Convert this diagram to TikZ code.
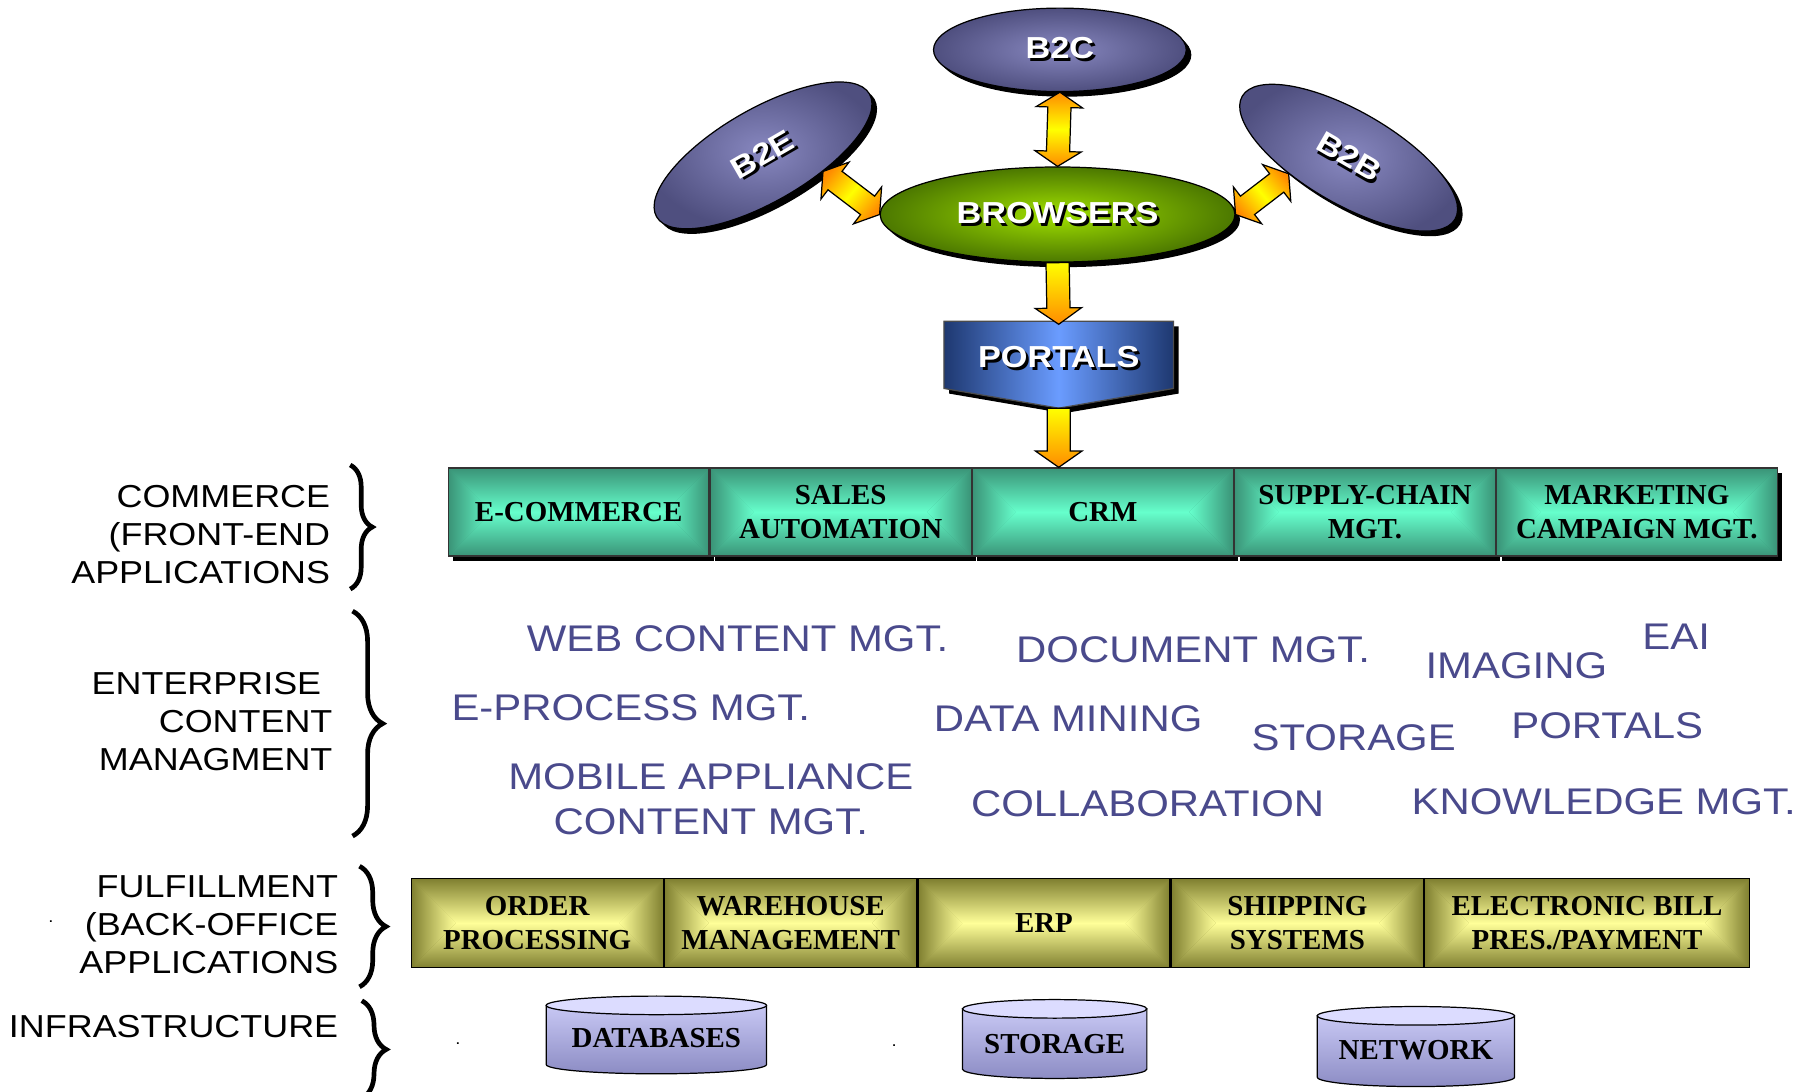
\documentclass[tikz,border=0pt]{standalone}
\usepackage{fontspec}
\usepackage{xcolor}
\usepackage{tikz}
\usetikzlibrary{calc,positioning,shapes.geometric,shadows,decorations.pathreplacing}
\newfontfamily\widesans[FakeStretch=1.13]{Liberation Sans}
\newfontfamily\serifface{Liberation Serif}
\newcommand\ovalfont{\widesans\bfseries\fontsize{14.9}{17}\selectfont}
\newcommand\cellfont{\serifface\bfseries\fontsize{14.2}{16.8}\selectfont}
\newcommand\labfont{\widesans\fontsize{15.6}{18.6}\selectfont}
\newcommand\ecmfont{\widesans\fontsize{18.2}{22.2}\selectfont}
\definecolor{ink}{HTML}{4A4A8C}
\definecolor{bizedge}{HTML}{4F4F7F}
\definecolor{bizmid}{HTML}{8888C0}
\definecolor{brwedge}{HTML}{4C7800}
\definecolor{brwmid}{HTML}{A0E000}
\definecolor{portedge}{HTML}{1E3870}
\definecolor{portmid}{HTML}{6A9CFF}
\definecolor{tealedge}{HTML}{3A9377}
\definecolor{tealmid}{HTML}{66FFCC}
\definecolor{oliveedge}{HTML}{7F7F30}
\definecolor{olivemid}{HTML}{FFFF99}
\definecolor{cyltop}{HTML}{DCDCFF}
\definecolor{cylbody}{HTML}{C8C8F4}
\definecolor{cyldark}{HTML}{8C8CC4}
\definecolor{arrorange}{HTML}{FF8C00}
\definecolor{arryellow}{HTML}{FFFF00}
% white text with a dark drop
\newcommand\shadowed[1]{\rlap{\kern1.3pt\raisebox{-1.3pt}{\color{black}#1}}#1}
% gradient from the edges of a box to its middle line
\newcommand\boxgrad[3]{%
  \coordinate (gl) at ($(path picture bounding box.west)!#3!(path picture bounding box.east)$);
  \coordinate (gr) at ($(path picture bounding box.east)!#3!(path picture bounding box.west)$);
  \shade[top color=#1,bottom color=#2] (path picture bounding box.north west) -- (path picture bounding box.north east) -- (gr) -- (gl) -- cycle;
  \shade[top color=#2,bottom color=#1] (path picture bounding box.south west) -- (path picture bounding box.south east) -- (gr) -- (gl) -- cycle;
  \shade[left color=#1,right color=#2] (path picture bounding box.north west) -- (path picture bounding box.south west) -- (gl) -- cycle;
  \shade[left color=#2,right color=#1] (path picture bounding box.north east) -- (path picture bounding box.south east) -- (gr) -- cycle;}
% block arrows
\newcommand\duoarrow[3][0]{%
  \coordinate (ha) at ($(#2)!0.26cm!(#3)$);
  \coordinate (hb) at ($(#3)!0.26cm!(#2)$);
  \shade[blockarrow, top color=arrorange, bottom color=arrorange, middle color=arryellow, shading angle=#1]
    (#2) -- ($(ha)!0.4cm!90:(#3)$) -- ($(ha)!0.2cm!90:(#3)$) -- ($(hb)!0.2cm!-90:(#2)$) -- ($(hb)!0.4cm!-90:(#2)$)
    -- (#3) -- ($(hb)!0.4cm!90:(#2)$) -- ($(hb)!0.2cm!90:(#2)$) -- ($(ha)!0.2cm!-90:(#3)$) -- ($(ha)!0.4cm!-90:(#3)$) -- cycle;}
\newcommand\onearrow[2]{%
  \coordinate (ha) at ($(#2)!0.28cm!(#1)$);
  \shade[blockarrow, top color=arryellow, bottom color=arrorange]
    ($(#1)!0.2cm!90:(#2)$) -- ($(ha)!0.2cm!-90:(#1)$) -- ($(ha)!0.4cm!-90:(#1)$) -- (#2)
    -- ($(ha)!0.4cm!90:(#1)$) -- ($(ha)!0.2cm!90:(#1)$) -- ($(#1)!0.2cm!-90:(#2)$) -- cycle;}
% storage drum: centre x, top y, bottom y, half width
\newcommand\drum[4]{%
  \shade[draw=black, line width=0.6pt, top color=cylbody, bottom color=cyldark]
    ({#1-#4},#2) -- ({#1-#4},#3) arc[start angle=180, end angle=0, x radius=#4, y radius=8] -- ({#1+#4},#2) -- cycle;
  \filldraw[fill=cyltop, line width=0.6pt] (#1,#2) ellipse[x radius=#4, y radius=8];}
\tikzset{
  deep/.style={drop shadow={shadow xshift=2.5pt, shadow yshift=-2.5pt, fill=black, opacity=1}},
  bizell/.style={ellipse, draw=black, line width=0.6pt, inner color=bizmid, outer color=bizedge, deep, text=white, font=\ovalfont, inner sep=0pt},
  blockarrow/.style={draw=black, line width=0.6pt, line join=miter},
  appcell/.style={draw=black!80, fill=tealedge, line width=0.6pt, minimum height=1.52cm, inner sep=0pt, align=center, font=\cellfont, path picture={\boxgrad{tealedge}{tealmid}{0.76cm}}, deep},
  bookcell/.style={draw=black, fill=oliveedge, line width=0.6pt, minimum height=1.54cm, inner sep=0pt, align=center, font=\cellfont, path picture={\boxgrad{oliveedge}{olivemid}{0.77cm}}},
  layer/.style={anchor=east, align=right, font=\labfont, inner sep=0pt},
  ecm/.style={anchor=west, text=ink, font=\ecmfont, inner sep=0pt},
  curly/.style={decorate, line width=2.3pt, decoration={brace, amplitude=#1}},
  drumtext/.style={font=\cellfont, inner sep=0pt},
}
\begin{document}
\begin{tikzpicture}[x=0.02cm, y=-0.02cm]
  \fill[white] (0,0) rectangle (1560,941.7);
  \useasboundingbox (0,0) rectangle (1560,941.7);

  % channels
  \node[bizell, minimum width=4.36cm, minimum height=1.44cm] (b2c) at (914,43) {\shadowed{B2C}};
  \node[bizell, rotate=30, minimum width=4.24cm, minimum height=1.6cm] (b2e) at (658,134) {\shadowed{B2E}};
  \node[bizell, rotate=-30, minimum width=4.24cm, minimum height=1.6cm] (b2b) at (1163,136) {\shadowed{B2B}};
  \node[bizell, inner color=brwmid, outer color=brwedge, minimum width=6.12cm, minimum height=1.64cm] (brw) at (912,185) {\shadowed{BROWSERS}};

  % portal block
  \coordinate (pc) at (913,306);
  \coordinate (ptip) at (913,352);
  \shade[draw=black!70, line width=0.6pt, left color=portedge, right color=portedge, middle color=portmid, deep]
    ($(pc)+(-99,-29)$) -- ($(pc)+(99,-29)$) -- ($(pc)+(99,29)$) -- (ptip) -- ($(pc)+(-99,29)$) -- cycle;
  \node[minimum width=3.96cm, minimum height=1.16cm, inner sep=0pt, text=white, font=\ovalfont] (portals) at ($(pc)+(0,3)$) {\shadowed{PORTALS}};

  \duoarrow{b2c.south}{brw.north}
  \duoarrow[50]{b2e.-45}{brw.180}
  \duoarrow[-50]{b2b.-135}{brw.0}
  \onearrow{brw.south}{portals.north}

  % front-end applications
  \node[appcell, minimum width=4.5cm, anchor=north west] (ecom) at (386,403) {E-COMMERCE};
  \node[appcell, minimum width=4.5cm, right=0pt of ecom] (sales) {SALES\\AUTOMATION};
  \node[appcell, minimum width=4.5cm, right=0pt of sales] (crm) {CRM};
  \node[appcell, minimum width=4.5cm, right=0pt of crm] (scm) {SUPPLY-CHAIN\\MGT.};
  \node[appcell, minimum width=4.84cm, right=0pt of scm] (mkt) {MARKETING\\CAMPAIGN MGT.};
  \coordinate (barin) at (ptip |- ecom.north);
  \onearrow{ptip}{barin}

  % content management
  \node[ecm] (webcm) at (454,551) {WEB CONTENT MGT.};
  \node[ecm] (docmgt) at (876,560) {DOCUMENT MGT.};
  \node[ecm] (imaging) at (1229,574) {IMAGING};
  \node[ecm] (eai) at (1416,549) {EAI};
  \node[ecm] (eproc) at (389,610) {E-PROCESS MGT.};
  \node[ecm] (mining) at (805,620) {DATA MINING};
  \node[ecm] (ecmstore) at (1079,636) {STORAGE};
  \node[ecm] (ecmportal) at (1303,626) {PORTALS};
  \node[ecm, anchor=center, align=center] (mobile) at (613,689.5) {MOBILE APPLIANCE\\CONTENT MGT.};
  \node[ecm] (collab) at (837,693) {COLLABORATION};
  \node[ecm] (knowmgt) at (1217,691) {KNOWLEDGE MGT.};

  % back-office applications
  \node[bookcell, minimum width=4.35cm, anchor=north west] (order) at (354,757) {ORDER\\PROCESSING};
  \node[bookcell, minimum width=4.35cm, right=0pt of order] (ware) {WAREHOUSE\\MANAGEMENT};
  \node[bookcell, minimum width=4.35cm, right=0pt of ware] (erp) {ERP};
  \node[bookcell, minimum width=4.35cm, right=0pt of erp] (ship) {SHIPPING\\SYSTEMS};
  \node[bookcell, minimum width=5.6cm, right=0pt of ship] (ebpp) {ELECTRONIC BILL\\PRES./PAYMENT};

  % infrastructure
  \drum{566}{867}{918}{95}
  \node[drumtext] (dbase) at (566,895) {DATABASES};
  \drum{909.5}{870}{922}{79.5}
  \node[drumtext] (stor) at (909.5,900) {STORAGE};
  \drum{1221}{876}{929}{85}
  \node[drumtext] (net) at (1221,906) {NETWORK};

  % layer names
  \node[layer] (commerce) at (285,461) {COMMERCE\\(FRONT-END\\APPLICATIONS};
  \node[layer] (content) at (287,622.5) {ENTERPRISE\kern5.5pt\\CONTENT\\MANAGMENT};
  \node[layer] (fulfil) at (292,797.5) {FULFILLMENT\\(BACK-OFFICE\\APPLICATIONS};
  \node[layer] (infra) at (292,885.5) {INFRASTRUCTURE};
  \draw[curly=10.8pt] (302,401) -- (302,508);
  \draw[curly=14.8pt] (304,527) -- (304,721);
  \draw[curly=13pt] (310,747) -- (310,851);
  \draw[curly=12pt] (312,863) -- (312,947);

  \node[font=\widesans\fontsize{8}{8}\selectfont, inner sep=0pt] (speck1) at (44,795) {.};
  \node[font=\widesans\fontsize{8}{8}\selectfont, inner sep=0pt] (speck2) at (395,900) {.};
  \node[font=\widesans\fontsize{8}{8}\selectfont, inner sep=0pt] (speck3) at (771,902) {.};
\end{tikzpicture}
\end{document}
